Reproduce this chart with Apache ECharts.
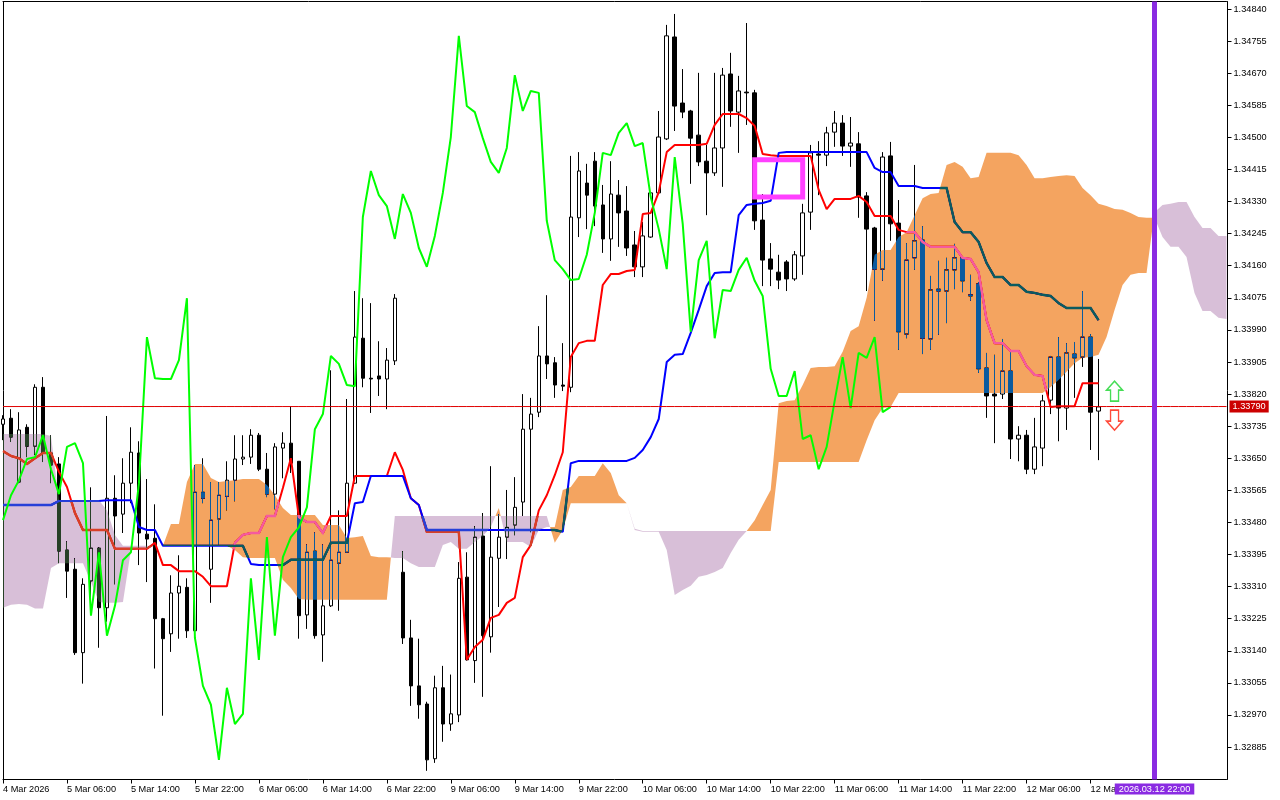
<!DOCTYPE html>
<html><head><meta charset="utf-8">
<style>html,body{margin:0;padding:0;background:#fff}#c{width:1280px;height:800px}</style>
<script src="https://cdn.jsdelivr.net/npm/echarts@6/dist/echarts.min.js"></script>
</head><body><div id="c"></div>
<script>
// All prices are in 1e-5 units (133790 = 1.33790)
const tickLabels=['4 Mar 2026','5 Mar 06:00','5 Mar 14:00','5 Mar 22:00','6 Mar 06:00','6 Mar 14:00','6 Mar 22:00','9 Mar 06:00','9 Mar 14:00','9 Mar 22:00','10 Mar 06:00','10 Mar 14:00','10 Mar 22:00','11 Mar 06:00','11 Mar 14:00','11 Mar 22:00','12 Mar 06:00','12 Mar 14:00'];
const priceTicks=[134840,134755,134670,134585,134500,134415,134330,134245,134160,134075,133990,133905,133820,133735,133650,133565,133480,133395,133310,133225,133140,133055,132970,132885];
const openP=[133740,133756,133587,133732,133682,133838,133664,133635,133407,133356,
133135,133325,133412,133254,133544,133502,133584,133664,133449,133438,
133225,133185,133293,133308,133193,133560,133356,133489,133549,133592,
133648,133653,133711,133621,133555,133677,133690,133642,133235,133404,
133182,133259,133372,133401,133584,133968,133862,133868,133860,133908,
133348,133174,133047,132999,132854,133042,132946,132970,133335,133114,
133444,133177,133385,133441,133473,133534,133727,133772,133921,133903,
133844,133838,134287,134379,134437,134321,134231,134347,134305,134215,
134157,134236,134353,134496,134766,134591,134570,134506,134437,134406,
134472,134668,134567,134620,134618,134281,134178,134143,134170,134125,
134186,134302,134456,134453,134514,134538,134477,134483,134345,134260,
134151,134451,134273,133979,134181,134228,133966,134098,134093,134149,
134181,134083,134112,133889,133820,133820,133881,133701,133711,133621,
133677,133804,133918,133783,133926,133918,133971,133775];
const closeP=[133754,133706,133725,133682,133838,133664,133632,133404,133351,133135,
133316,133412,133254,133544,133497,133584,133666,133452,133436,133225,
133172,133293,133311,133193,133560,133544,133486,133552,133592,133648,
133653,133711,133621,133555,133680,133690,133637,133233,133401,133180,
133259,133380,133401,133584,133971,133862,133860,133860,133910,134074,
133174,133047,132997,132851,133042,132946,132973,133332,133116,133441,
133180,133388,133441,133467,133520,133727,133767,133921,133900,133844,
133841,134289,134411,134347,134318,134231,134350,134300,134207,134157,
134239,134353,134501,134769,134583,134567,134498,134435,134406,134472,
134665,134570,134623,134618,134279,134175,134151,134122,134125,134189,
134300,134459,134453,134512,134538,134477,134485,134342,134257,134151,
134448,134271,133985,134175,134226,133968,134096,134093,134149,134181,
134120,134080,133887,133815,133815,133881,133701,133711,133621,133680,
133802,133918,133783,133929,133916,133971,133772,133786];
const highP=[133764,133780,133772,133740,133846,133865,133711,133653,133430,133385,
133332,133573,133414,133762,133605,133650,133732,133695,133595,133528,
133227,133340,133393,133332,133632,133650,133587,133587,133642,133711,
133711,133727,133717,133664,133690,133719,133788,133642,133422,133454,
133422,133883,133512,133807,134093,134074,134061,133960,133942,134085,
133404,133222,133172,133005,133074,133100,133077,133375,133401,133470,
133505,133629,133502,133566,133600,133820,133810,134000,134082,133918,
133955,134451,134461,134430,134461,134374,134437,134387,134371,134252,
134276,134355,134570,134798,134827,134681,134573,134671,134480,134671,
134684,134724,134663,134803,134626,134350,134220,134189,134175,134199,
134324,134480,134490,134528,134570,134559,134554,134514,134355,134263,
134461,134488,134334,134220,134427,134265,134133,134173,134181,134218,
134183,134136,134117,133929,133924,133966,133932,133735,133725,133757,
133818,133921,133971,133955,133958,134093,133979,133913];
const lowP=[133698,133693,133584,133653,133659,133640,133584,133372,133280,133129,
133053,133275,133148,133217,133316,133452,133531,133367,133322,133093,
132968,133137,133172,133174,133190,133531,133267,133422,133512,133536,
133632,133635,133616,133547,133515,133597,133611,133172,133198,133172,
133111,133256,133246,133399,133582,133838,133770,133815,133780,133897,
133158,132994,132960,132822,132843,132899,132928,132951,133114,133055,
133018,133135,133256,133383,133446,133497,133454,133759,133860,133810,
133828,133825,134236,134257,134265,134194,134173,134210,134186,134130,
134130,134234,134350,134493,134517,134551,134377,134424,134294,134398,
134369,134528,134459,134533,134255,134106,134106,134098,134093,134120,
134136,134255,134347,134424,134475,134451,134422,134287,134093,134014,
134120,134226,133937,133968,134149,133926,133937,133977,134008,134098,
134090,134067,133876,133757,133690,133807,133648,133642,133608,133608,
133629,133767,133695,133725,133810,133892,133672,133645];
const tenkan=[133669,133656,133650,133635,133650,133664,133664,133614,133574,133505,
133460,133460,133460,133460,133410,133410,133410,133410,133410,133426,
133367,133367,133351,133351,133351,133336,133311,133311,133311,133426,
133447,133452,133452,133497,133497,133571,133650,133494,133481,133481,
133452,133497,133497,133497,133603,133603,133603,133603,133603,133666,
133619,133544,133526,133455,133455,133455,133455,133455,133116,133150,
133169,133227,133235,133267,133280,133388,133420,133512,133552,133605,
133666,133918,133955,133961,133961,134109,134138,134138,134146,134149,
134297,134300,134355,134461,134480,134480,134480,134480,134483,134533,
134562,134562,134562,134551,134530,134456,134453,134451,134451,134451,
134451,134451,134361,134310,134337,134337,134337,134345,134329,134292,
134292,134292,134255,134249,134249,134223,134210,134210,134210,134210,
134181,134178,134143,134016,133955,133955,133934,133934,133894,133871,
133868,133786,133788,133788,133788,133849,133849,133849];
const kijun=[133526,133526,133526,133526,133526,133526,133526,133537,133537,133537,
133537,133537,133537,133539,133539,133539,133539,133468,133460,133460,
133418,133418,133418,133418,133418,133418,133418,133418,133418,133418,
133418,133370,133367,133367,133367,133367,133381,133381,133381,133381,
133381,133426,133426,133426,133531,133534,133603,133603,133603,133603,
133603,133544,133526,133460,133460,133460,133460,133460,133460,133460,
133460,133460,133460,133460,133460,133460,133460,133460,133460,133460,
133455,133637,133643,133643,133643,133643,133643,133643,133643,133651,
133672,133706,133754,133905,133924,133926,133982,134043,134106,134141,
134143,134143,134294,134321,134324,134326,134332,134459,134461,134461,
134461,134461,134461,134461,134461,134461,134461,134461,134461,134419,
134408,134408,134371,134371,134371,134366,134366,134366,134366,134276,
134249,134249,134223,134167,134130,134130,134109,134109,134091,134088,
134083,134080,134061,134048,134048,134048,134048,134016];
const chikou=[133486,133552,133592,133648,133653,133711,133621,133555,133680,133690,
133637,133233,133401,133180,133259,133380,133401,133584,133971,133862,
133860,133860,133910,134074,133174,133047,132997,132851,133042,132946,
132973,133332,133116,133441,133180,133388,133441,133467,133520,133727,
133767,133921,133900,133844,133841,134289,134411,134347,134318,134231,
134350,134300,134207,134157,134239,134353,134501,134769,134583,134567,
134498,134435,134406,134472,134665,134570,134623,134618,134279,134175,
134151,134122,134125,134189,134300,134459,134453,134512,134538,134477,
134485,134342,134257,134151,134448,134271,133985,134175,134226,133968,
134096,134093,134149,134181,134120,134080,133887,133815,133815,133881,
133701,133711,133621,133680,133802,133918,133783,133929,133916,133971,
133772,133786];
const spanA=[133254,133262,133264,133262,133252,133252,133359,133372,133372,133372,
133372,133322,133269,133267,133267,133269,133407,133410,133410,133418,
133418,133476,133476,133587,133635,133635,133598,133587,133590,133592,
133595,133595,133595,133579,133552,133518,133500,133500,133500,133500,
133473,133473,133473,133439,133441,133444,133391,133388,133388,133386,
133386,133372,133362,133362,133362,133420,133428,133410,133410,133428,
133444,133468,133518,133428,133428,133428,133415,133460,133468,133468,
133566,133574,133603,133603,133603,133637,133611,133552,133531,133460,
133455,133455,133455,133407,133288,133301,133312,133336,133341,133349,
133359,133399,133434,133457,133486,133526,133566,133796,133802,133804,
133844,133889,133892,133892,133894,133932,133987,134000,134075,134189,
134202,134202,134236,134249,134294,134339,134350,134353,134427,134435,
134422,134392,134395,134459,134459,134459,134459,134453,134427,134392,
134392,134395,134398,134400,134398,134366,134347,134324,134318,134310,
134308,134300,134289,134287,134287,134236,134210,134210,134183,134088,
134040,134040,134022,134019];
const spanB=[133714,133714,133714,133714,133714,133714,133709,133539,133539,133539,
133539,133539,133539,133512,133447,133418,133418,133418,133418,133418,
133418,133418,133418,133418,133418,133418,133418,133418,133418,133407,
133388,133386,133386,133386,133386,133328,133306,133277,133275,133275,
133275,133275,133275,133275,133275,133275,133275,133275,133275,133497,
133497,133497,133497,133497,133497,133497,133497,133497,133497,133497,
133497,133497,133497,133497,133497,133497,133497,133497,133497,133426,
133460,133531,133531,133531,133531,133531,133531,133531,133531,133463,
133457,133457,133457,133457,133457,133457,133457,133457,133457,133457,
133457,133457,133457,133457,133457,133457,133457,133640,133640,133640,
133640,133640,133640,133640,133640,133640,133640,133640,133698,133751,
133783,133786,133823,133823,133823,133823,133823,133823,133823,133823,
133823,133823,133823,133823,133823,133823,133823,133823,133823,133823,
133823,133839,133857,133879,133902,133916,133918,133924,133971,134043,
134109,134136,134141,134141,134302,134321,134324,134329,134329,134289,
134260,134260,134239,134239];
const lastPrice=133787, lastPriceLabel='1.33790';
const cursorIndex=144, cursorLabel='2026.03.12 22:00';
const boxFrom=94, boxTo=100, boxHigh=134441, boxLow=134342;
const arrowIndex=139, arrowUpPrice=133828, arrowDownPrice=133751;

const BARS=spanA.length;
const categories=Array.from({length:BARS},(_,i)=>(i%8===0&&tickLabels[i/8])||'');
const candles=openP.map((o,i)=>[o,closeP[i],lowP[i],highP[i]]);
const lastPriceLine=categories.map(()=>lastPrice);

// Cloud regions: consecutive bars where A and B keep the same order
const regions=[];
(function(){
  let cur=null;
  const add=(s,a,b)=>{ if(!cur||cur.s!==s){cur={s,a:[],b:[]};regions.push(cur);} cur.a.push(a);cur.b.push(b); };
  for(let i=0;i<BARS-1;i++){
    const d0=spanA[i]-spanB[i], d1=spanA[i+1]-spanB[i+1];
    const p=(k,arr)=>({i:k,t:0,v:arr[k]});
    if(d0*d1<0){
      const t=d0/(d0-d1), v=spanA[i]+t*(spanA[i+1]-spanA[i]), x={i,t,v};
      const s0=d0>0?1:-1, s1=-s0;
      add(s0,p(i,spanA),p(i,spanB)); add(s0,x,x); add(s1,x,x); add(s1,p(i+1,spanA),p(i+1,spanB));
    }else{
      const s=(d0+d1)>=0?1:-1;
      add(s,p(i,spanA),p(i,spanB)); add(s,p(i+1,spanA),p(i+1,spanB));
    }
  }
})();
function regionPolygon(r,api){
  const toXY=p=>{const c=api.coord([p.i,p.v]); if(p.t){const c2=api.coord([p.i+1,p.v]); c[0]+=p.t*(c2[0]-c[0]);} return c;};
  return r.a.map(toXY).concat(r.b.slice().reverse().map(toXY));
}

const chart=echarts.init(document.getElementById('c'),null,{renderer:'canvas'});
const FONT='Liberation Sans';
const showTick=i=>i%8===0&&i/8<tickLabels.length;
chart.setOption({
  animation:false,
  backgroundColor:'#ffffff',
  textStyle:{fontFamily:FONT},
  grid:{left:2.5,top:1.5,width:1224,height:778,containLabel:false},
  xAxis:[{
    type:'category',data:categories,boundaryGap:false,position:'bottom',
    axisLine:{lineStyle:{color:'#000',width:1}},
    axisTick:{length:4,interval:(i)=>showTick(i),lineStyle:{color:'#000'}},
    axisLabel:{interval:(i)=>showTick(i),align:'left',margin:5,color:'#000',fontSize:9.2,fontFamily:FONT,hideOverlap:false},
    splitLine:{show:false}
  },{
    type:'category',data:categories,boundaryGap:false,position:'top',
    axisLine:{lineStyle:{color:'#000',width:1}},axisTick:{show:false},axisLabel:{show:false},splitLine:{show:false}
  }],
  yAxis:[{
    type:'value',position:'right',offset:1,min:132799,max:134860,
    axisLine:{show:true,lineStyle:{color:'#000',width:1}},
    axisTick:{show:true,length:4,customValues:priceTicks,lineStyle:{color:'#000'}},
    axisLabel:{customValues:priceTicks,margin:6,color:'#000',fontSize:9.2,fontFamily:FONT,formatter:v=>(v/1e5).toFixed(5)},
    splitLine:{show:false}
  },{
    type:'value',position:'left',min:132799,max:134860,
    axisLine:{show:true,lineStyle:{color:'#000',width:1}},axisTick:{show:false},axisLabel:{show:false},splitLine:{show:false}
  }],
  series:[
    {type:'candlestick',name:'Price',data:candles,barWidth:4,z:1,progressive:0,large:false,silent:true,
     itemStyle:{color:'#fff',color0:'#000',borderColor:'#000',borderColor0:'#000',borderWidth:1}},
    {type:'line',name:'Tenkan',data:tenkan,showSymbol:false,symbol:'none',z:2,silent:true,lineStyle:{color:'#ff0000',width:2}},
    {type:'line',name:'Kijun',data:kijun,showSymbol:false,symbol:'none',z:2,silent:true,lineStyle:{color:'#0000ff',width:2}},
    {type:'custom',name:'Cloud',z:3,silent:true,blendMode:'difference',
     data:regions.map((_,k)=>[k,spanA[k]]),encode:{x:0,y:1},
     renderItem(params,api){
       const r=regions[params.dataIndex];
       return {type:'polygon',shape:{points:regionPolygon(r,api)},silent:true,
         style:{fill:r.s>0?'#0b5b9f':'#274027',stroke:null}};
     }},
    // Tenkan and Kijun as they show through the cloud
    {type:'custom',name:'Lines in cloud',z:4,silent:true,
     data:regions.map((_,k)=>[k,spanA[k]]),encode:{x:0,y:1},
     renderItem(params,api){
       const r=regions[params.dataIndex];
       const path=arr=>arr.map((v,i)=>api.coord([i,v]));
       return {type:'group',silent:true,
         clipPath:{type:'polygon',shape:{points:regionPolygon(r,api)}},
         children:[
           {type:'polyline',shape:{points:path(tenkan)},silent:true,style:{fill:null,lineWidth:2.4,stroke:r.s>0?'#f45b9f':'#d84027'}},
           {type:'polyline',shape:{points:path(kijun)},silent:true,style:{fill:null,lineWidth:2.4,stroke:r.s>0?'#0b5b60':'#2740d8'}}
         ]};
     }},
    {type:'line',name:'Chikou',data:chikou,showSymbol:false,symbol:'none',z:5,silent:true,lineStyle:{color:'#00ff00',width:2},
     markLine:{silent:true,symbol:['none','none'],z:7,animation:false,
       data:[
        {xAxis:cursorIndex,lineStyle:{color:'#8a2be2',width:5,type:'solid'},
         label:{show:true,position:'start',distance:4,formatter:cursorLabel,color:'#fff',backgroundColor:'#8a2be2',padding:[1,4,1,4],fontSize:9.2,fontFamily:FONT}}
       ]},
     markArea:{silent:true,z:8,animation:false,
       itemStyle:{color:'rgba(0,0,0,0)',borderColor:'#ff40ff',borderWidth:5},
       data:[[{xAxis:boxFrom,yAxis:boxHigh},{xAxis:boxTo,yAxis:boxLow}]]},
     markPoint:{silent:true,z:9,animation:false,label:{show:false},
       data:[
        {coord:[arrowIndex,arrowUpPrice],symbol:'path://M8 0L16 9L12 9L12 20L4 20L4 9L0 9Z',symbolSize:[16,20],symbolKeepAspect:false,
         itemStyle:{color:'#fff',borderColor:'#45dd55',borderWidth:1.5}},
        {coord:[arrowIndex,arrowDownPrice],symbol:'path://M4 0L12 0L12 11L16 11L8 20L0 11L4 11Z',symbolSize:[16,20],symbolKeepAspect:false,
         itemStyle:{color:'#fff',borderColor:'#ff4a3a',borderWidth:1.5}}
       ]}
    },
    {type:'line',name:'Last price',data:lastPriceLine,showSymbol:false,symbol:'none',z:6,silent:true,
     lineStyle:{color:'#e00000',width:1},
     endLabel:{show:true,formatter:lastPriceLabel,distance:3,color:'#fff',backgroundColor:'#cc0000',padding:[2,3,1,3],fontSize:9.2,fontFamily:FONT}}
  ]
});
</script></body></html>
